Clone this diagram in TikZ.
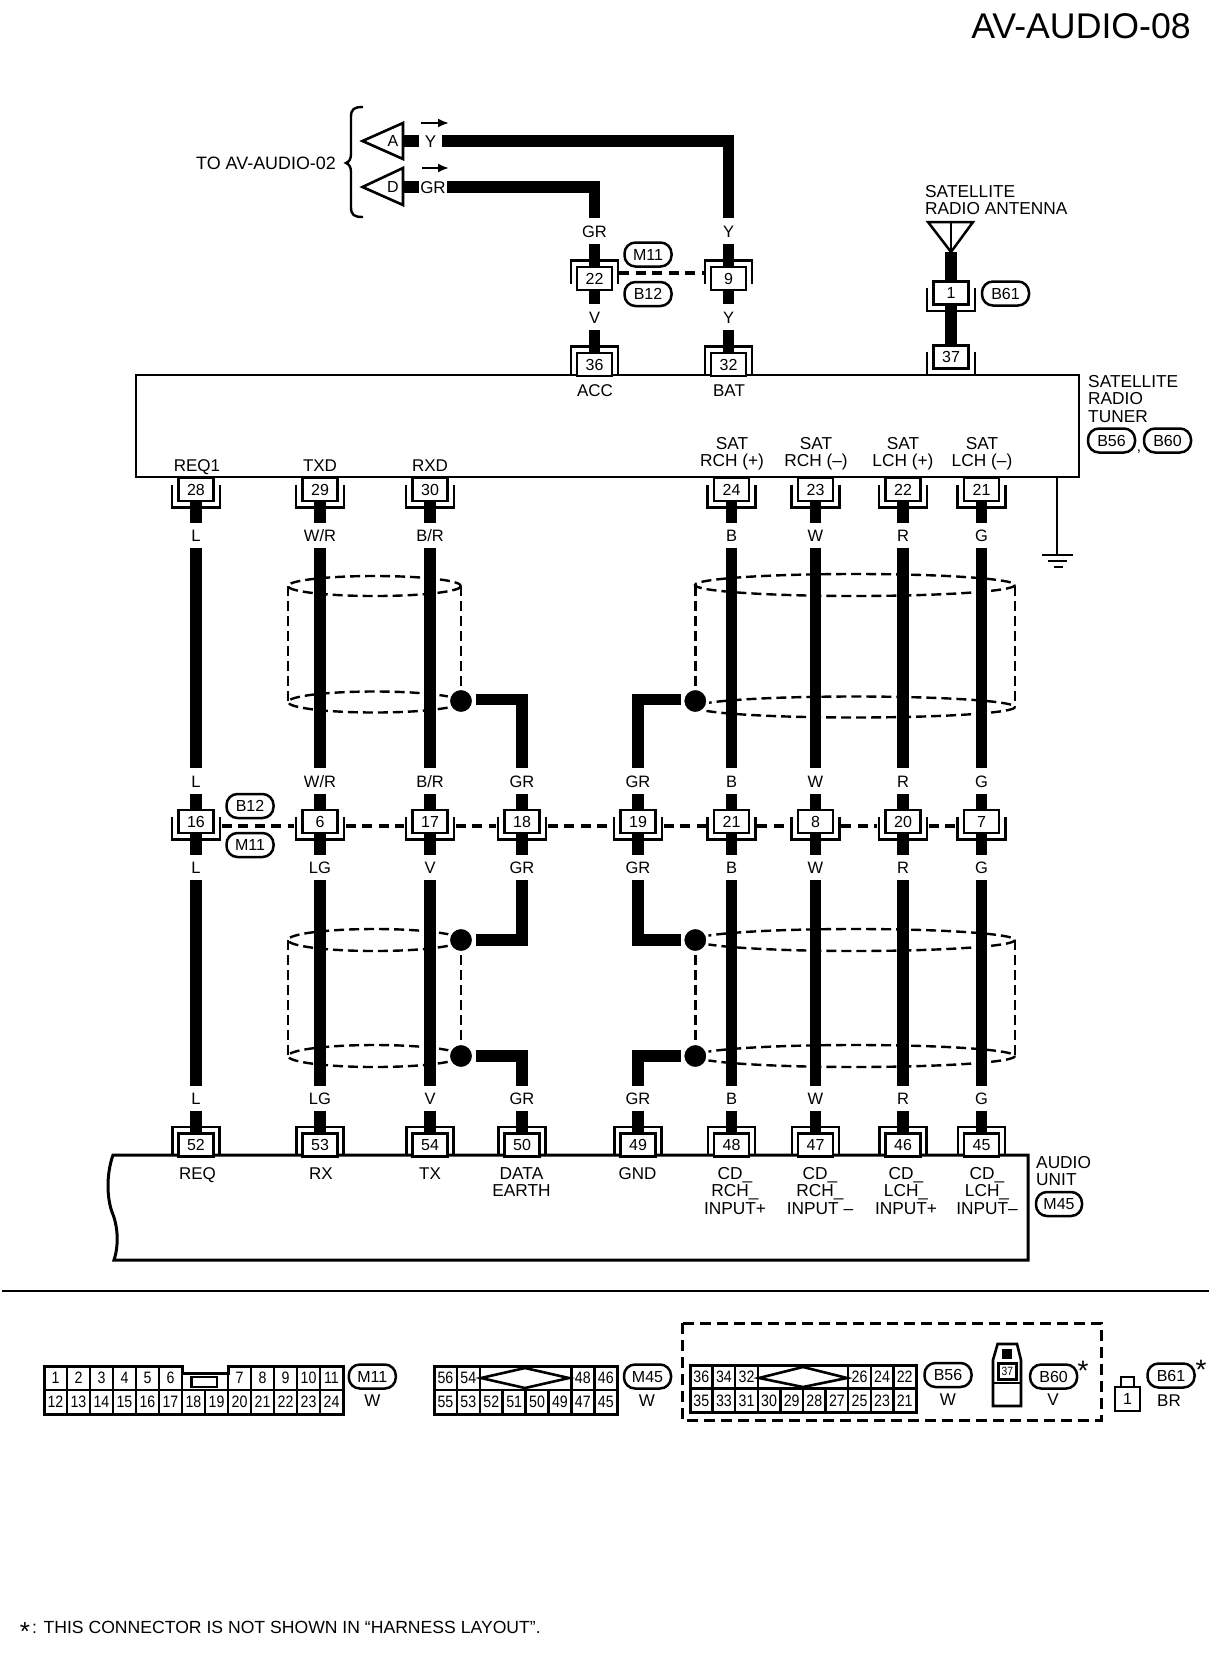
\documentclass[tikz,border=0pt]{standalone}
\usepackage{fontspec}
\setmainfont{Liberation Sans}
\newfontfamily\narrowf[FakeStretch=0.86]{Liberation Sans}
\usetikzlibrary{arrows.meta}
\tikzset{
  wire/.style={line width=11.5pt,line cap=butt,line join=miter},
  brk/.style={line width=2.2pt,line join=miter},
  pinbox/.style={draw,fill=white,line width=2.7pt,minimum width=35pt,minimum height=23pt,inner sep=0pt,
    font=\fontsize{16}{16}\selectfont,text height=11.5pt,text depth=0pt},
  wlabel/.style={inner sep=0pt,font=\fontsize{16.5}{17}\selectfont,text height=12pt,text depth=0pt},
  txt/.style={inner sep=0pt,font=\fontsize{17}{17.5}\selectfont,text height=12.2pt,text depth=0pt},
  multi/.style={inner sep=0pt,font=\fontsize{17.3}{17.5}\selectfont},
  tagoval/.style={draw,line width=2.5pt,rounded corners=11pt,minimum width=47pt,minimum height=24pt,inner sep=0pt,
    font=\fontsize{16}{16}\selectfont,text height=11.5pt,text depth=0pt},
  dashw/.style={line width=4pt,dash pattern=on 10pt off 6.5pt},
  shieldline/.style={line width=2.4pt,dash pattern=on 10pt off 5pt},
  dot/.style={circle,fill=black,draw=white,line width=3pt,minimum size=25pt,inner sep=0pt,outer sep=2pt},
  thickbody/.style={line width=3pt,line join=miter},
  cellbox/.style={draw,line width=2.5pt,inner sep=0pt,font=\narrowf\fontsize{16.5}{16.5}\selectfont,text height=11.8pt,text depth=0pt},
}
\newcommand{\connD}[4]{% bracket below: name,x,y,text
  \draw[brk] (#2-24,#3-5) -- (#2-24,#3+18) -- (#2+24,#3+18) -- (#2+24,#3-5);
  \node[pinbox] (#1) at (#2,#3) {#4};}
\newcommand{\connT}[5]{% bracket above: name,x,y,text,leg length
  \draw[brk] (#2-23.5,#3+#5) -- (#2-23.5,#3-18) -- (#2+23.5,#3-18) -- (#2+23.5,#3+#5);
  \node[pinbox] (#1) at (#2,#3) {#4};}
\begin{document}
\begin{tikzpicture}[x=1pt,y=-1pt]
\useasboundingbox (0,0) rectangle (1216,1660);

% title
\node[inner sep=0pt,anchor=east,font=\fontsize{35.7}{36}\selectfont,text height=25.5pt,text depth=0pt] (title) at (1191,26) {AV-AUDIO-08};

% devices
\node[draw,line width=2.8pt,minimum width=943pt,minimum height=102pt,inner sep=0pt] (tuner) at (607.5,426) {};
\draw[thickbody] (113,1155) .. controls (106,1175) and (107,1198) .. (112,1212) .. controls (118,1226) and (119,1245) .. (114,1260) -- (1028,1260) -- (1028,1155) -- cycle;

% tuner / unit captions
\node[multi,anchor=north west,align=left] (tunercap) at (1088,375) {SATELLITE\\RADIO\\TUNER};
\node[tagoval] (tB56) at (1111.5,440.5) {B56};
\node[tagoval] (tB60) at (1167.5,440.5) {B60};
\node[multi,font=\fontsize{15}{15}\selectfont] (comma) at (1139,452) {,};
\node[multi,anchor=north west,align=left] (unitcap) at (1036,1156) {AUDIO\\UNIT};
\node[tagoval,minimum width=46pt] (tM45a) at (1059,1204) {M45};
\node[multi,anchor=north west,align=left] (antcap) at (925,185) {SATELLITE\\RADIO ANTENNA};

% pin names of the tuner
\node[txt] (nACC) at (595,390) {ACC};
\node[txt] (nBAT) at (729,390) {BAT};
\node[txt] (nREQ1) at (197,465) {REQ1};
\node[txt] (nTXD) at (320,465) {TXD};
\node[txt] (nRXD) at (430,465) {RXD};
\node[multi,anchor=north,align=center] (nS1) at (732,437) {SAT\\RCH (+)};
\node[multi,anchor=north,align=center] (nS2) at (816,437) {SAT\\RCH (--)};
\node[multi,anchor=north,align=center] (nS3) at (903,437) {SAT\\LCH (+)};
\node[multi,anchor=north,align=center] (nS4) at (982,437) {SAT\\LCH (--)};

% pin names of the audio unit
\node[txt] (nREQ) at (197.5,1173) {REQ};
\node[txt] (nRX) at (321,1173) {RX};
\node[txt] (nTX) at (430,1173) {TX};
\node[multi,anchor=north,align=center] (nDE) at (521.5,1167) {DATA\\EARTH};
\node[txt] (nGND) at (637.5,1173) {GND};
\node[multi,anchor=north,align=center] (nC1) at (735,1167) {CD\_\\RCH\_\\INPUT+};
\node[multi,anchor=north,align=center] (nC2) at (820,1167) {CD\_\\RCH\_\\INPUT --};
\node[multi,anchor=north,align=center] (nC3) at (906,1167) {CD\_\\LCH\_\\INPUT+};
\node[multi,anchor=north,align=center] (nC4) at (987,1167) {CD\_\\LCH\_\\INPUT--};

% shields, behind the wires
\coordinate (dc1) at (461,701);
\coordinate (dc2) at (695.3,701);
\coordinate (dc3) at (461,940);
\coordinate (dc4) at (695.3,940);
\coordinate (dc5) at (461,1056);
\coordinate (dc6) at (695.3,1056);
\coordinate (cylAa) at (288,586);
\coordinate (cylAb) at (288,702);
\coordinate (cylAc) at (461,586);
\coordinate (cylBa) at (695.3,586);
\coordinate (cylBb) at (1015,586);
\coordinate (cylBc) at (1015,707);
\coordinate (cylCa) at (288,940);
\coordinate (cylCb) at (288,1056);
\coordinate (cylDa) at (1015,940);
\coordinate (cylDb) at (1015,1056);
\draw[shieldline] (374.5,586) ellipse (86.5 and 10);
\draw[shieldline] (374.5,702) ellipse (86.5 and 10.5);
\draw[shieldline] (855,585) ellipse (160 and 11);
\draw[shieldline] (855,707) ellipse (160 and 10.5);
\draw[shieldline] (374.5,940) ellipse (86.5 and 11);
\draw[shieldline] (374.5,1056) ellipse (86.5 and 11);
\draw[shieldline] (855,940) ellipse (160 and 11);
\draw[shieldline] (855,1056) ellipse (160 and 11);
\draw[shieldline] (cylAa) -- (cylAb);
\draw[shieldline] (cylAc) -- (dc1);
\draw[shieldline] (cylBa) -- (dc2);
\draw[shieldline] (cylBb) -- (cylBc);
\draw[shieldline] (cylCa) -- (cylCb);
\draw[shieldline] (cylDa) -- (cylDb);
\draw[shieldline] (dc3) -- (dc5);
\draw[shieldline] (dc4) -- (dc6);

% the seven through columns
\foreach \n/\x/\pa/\la/\lb/\pmid/\lc/\ld/\pb in {
  L/196/28/L/L/16/L/L/52,
  WR/320/29/{W/R}/{W/R}/6/LG/LG/53,
  BR/430/30/{B/R}/{B/R}/17/V/V/54,
  B/731.5/24/B/B/21/B/B/48,
  W/815.5/23/W/W/8/W/W/47,
  R/903/22/R/R/20/R/R/46,
  G/981.5/21/G/G/7/G/G/45}{
  \connD{t\n}{\x}{489.5}{\pa}
  \connD{m\n}{\x}{821.5}{\pmid}
  \connT{b\n}{\x}{1145}{\pb}{10}
  \node[wlabel,minimum height=25pt] (a\n) at (\x,535.5) {\la};
  \node[wlabel,minimum height=26pt] (e\n) at (\x,781) {\lb};
  \node[wlabel,minimum height=25pt] (c\n) at (\x,867.5) {\lc};
  \node[wlabel,minimum height=25pt] (d\n) at (\x,1098.5) {\ld};
  \draw[wire] (t\n.south) -- (a\n.north);
  \draw[wire] (a\n.south) -- (e\n.north);
  \draw[wire] (e\n.south) -- (m\n.north);
  \draw[wire] (m\n.south) -- (c\n.north);
  \draw[wire] (c\n.south) -- (d\n.north);
  \draw[wire] (d\n.south) -- (b\n.north);
}

% the two drain columns
\foreach \n/\x/\pmid/\pb in {S/522/18/50,H/638/19/49}{
  \connD{m\n}{\x}{821.5}{\pmid}
  \connT{b\n}{\x}{1145}{\pb}{10}
  \node[wlabel,minimum height=26pt] (e\n) at (\x,781) {GR};
  \node[wlabel,minimum height=25pt] (c\n) at (\x,867.5) {GR};
  \node[wlabel,minimum height=25pt] (d\n) at (\x,1098.5) {GR};
  \draw[wire] (e\n.south) -- (m\n.north);
  \draw[wire] (m\n.south) -- (c\n.north);
  \draw[wire] (d\n.south) -- (b\n.north);
}
\foreach \i in {1,...,6}{\node[dot] (d\i) at (dc\i) {};}
\draw[wire] ([yshift=1.5pt]d1.east) -- ([yshift=1.5pt]d1.east -| eS.north) -- (eS.north);
\draw[wire] ([yshift=1.5pt]d2.west) -- ([yshift=1.5pt]d2.west -| eH.north) -- (eH.north);
\draw[wire] (cS.south) -- (cS.south |- d3.east) -- (d3.east);
\draw[wire] (cH.south) -- (cH.south |- d4.west) -- (d4.west);
\draw[wire] (d5.east) -- (d5.east -| dS.north) -- (dS.north);
\draw[wire] (d6.west) -- (d6.west -| dH.north) -- (dH.north);

% inter-connector dashed link and tags
\foreach \p/\q in {mL/mWR,mWR/mBR,mBR/mS,mS/mH,mH/mB,mB/mW,mW/mR,mR/mG}{
  \draw[dashw] ([xshift=7pt,yshift=-4pt]\p.east) -- ([xshift=-7pt,yshift=-4pt]\q.west);
}
\node[tagoval] (tB12b) at (250,806) {B12};
\node[tagoval] (tM11b) at (250,845) {M11};

% upper harness
\node[inner sep=0pt,font=\fontsize{16}{16}\selectfont,minimum width=18pt,text height=11.5pt,text depth=0pt] (triA) at (393,141) {A};
\node[inner sep=0pt,font=\fontsize{16}{16}\selectfont,minimum width=18pt,text height=11.5pt,text depth=0pt] (triD) at (393,187) {D};
\draw[line width=2.6pt,line join=miter] (362.5,141) -- (403,123) -- (403,159) -- cycle;
\draw[line width=2.6pt,line join=miter] (362.5,187) -- (403,168) -- (403,205) -- cycle;
\node[txt,minimum width=23pt] (wY) at (430.5,141) {Y};
\node[txt,minimum width=27pt] (wGR) at (433,187) {GR};
\draw[wire] (triA.east) -- (wY.west);
\draw[wire] (triD.east) -- (wGR.west);
\node[wlabel,minimum height=26pt] (uGR) at (594.5,231) {GR};
\node[wlabel,minimum height=26pt] (uY) at (728.5,231) {Y};
\draw[wire] (wY.east) -- (wY.east -| uY.north) -- (uY.north);
\draw[wire] (wGR.east) -- (wGR.east -| uGR.north) -- (uGR.north);
\coordinate (arA1) at (421,123);
\coordinate (arA2) at (449,123);
\coordinate (arD1) at (422,168);
\coordinate (arD2) at (449,168);
\draw[line width=2pt,-{Latex[length=11pt,width=9pt]}] (arA1) -- (arA2);
\draw[line width=2pt,-{Latex[length=11pt,width=9pt]}] (arD1) -- (arD2);
\draw[line width=2.4pt] (363,107) .. controls (354,107) and (351,109) .. (351,117) -- (351,154) .. controls (351,159) and (349,162) .. (346,163) .. controls (349,164) and (351,167) .. (351,172) -- (351,207) .. controls (351,215) and (354,217) .. (363,217);
\node[txt,anchor=east,font=\fontsize{17.9}{18}\selectfont] (toav) at (336,163) {TO AV-AUDIO-02};

\connT{p22}{594.5}{278.5}{22}{5}
\connT{p9}{728.5}{278.5}{9}{5}
\connT{p36}{594.5}{364.5}{36}{10.5}
\connT{p32}{728.5}{364.5}{32}{10.5}
\node[wlabel,minimum height=26pt] (vV) at (594.5,317) {V};
\node[wlabel,minimum height=26pt] (vY) at (728.5,317) {Y};
\draw[wire] (uGR.south) -- (p22.north);
\draw[wire] (uY.south) -- (p9.north);
\draw[wire] (p22.south) -- (vV.north);
\draw[wire] (p9.south) -- (vY.north);
\draw[wire] (vV.south) -- (p36.north);
\draw[wire] (vY.south) -- (p32.north);
\draw[dashw] ([xshift=6pt,yshift=5.5pt]p22.east) -- ([xshift=-6pt,yshift=5.5pt]p9.west);
\node[tagoval] (tM11a) at (648,254.5) {M11};
\node[tagoval] (tB12a) at (648,294) {B12};

% antenna
\connD{p1}{951}{293}{1}
\connD{p37}{951}{357}{37}
\node[tagoval] (tB61a) at (1005.5,293.5) {B61};
\coordinate (antApex) at (951,252);
\coordinate (antL) at (928,222);
\coordinate (antM) at (951,222);
\coordinate (antR) at (973,222);
\draw[line width=2.5pt,line join=miter] (antL) -- (antR) -- (antApex) -- cycle;
\draw[line width=2.5pt] (antM) -- (antApex);
\draw[wire] (antApex) -- (p1.north);
\draw[wire] (p1.south) -- (p37.north);

% ground
\coordinate (gnd) at (1057,555);
\draw[line width=2.4pt] (tuner.south -| gnd) -- (gnd);
\draw[line width=2.4pt] (1042,555) -- (1073,555);
\draw[line width=2.4pt] (1048,561) -- (1067,561);
\draw[line width=2.4pt] (1054,567) -- (1063,567);

% separator
\coordinate (sepL) at (2,1291);
\coordinate (sepR) at (1209,1291);
\draw[line width=1.6pt] (sepL) -- (sepR);

% connector M11
\foreach \t/\i in {1/0,2/1,3/2,4/3,5/4,6/5,7/8,8/9,9/10,10/11,11/12}{
  \node[cellbox,minimum width=23pt,minimum height=24pt] (fa\t) at ({55.5+23*\i},1378) {\t};}
\foreach \t [count=\i from 0] in {12,13,14,15,16,17,18,19,20,21,22,23,24}{
  \node[cellbox,minimum width=23pt,minimum height=24pt] (fb\t) at ({55.5+23*\i},1402) {\t};}
\draw[thickbody] (44,1366) -- (182,1366) -- (182,1373) -- (228,1373) -- (228,1366) -- (343,1366) -- (343,1414) -- (44,1414) -- cycle;
\draw[line width=2.4pt] (182,1390) -- (228,1390);
\draw[line width=2.8pt] (191.5,1377) rectangle (217,1387);
\node[tagoval] (tM11c) at (372.3,1376.5) {M11};
\node[txt] (cM11) at (372.5,1400) {W};

% connector M45
\foreach \t/\i in {56/0,54/1,48/6,46/7}{
  \node[cellbox,minimum width=22.9pt,minimum height=24pt] (ga\t) at ({445.45+22.9*\i},1378) {\t};}
\foreach \t [count=\i from 0] in {55,53,52,51,50,49,47,45}{
  \node[cellbox,minimum width=22.9pt,minimum height=24pt] (gb\t) at ({445.45+22.9*\i},1402) {\t};}
\draw[thickbody] (434,1366) rectangle (617,1414);
\draw[line width=2.4pt] (479.8,1390) -- (571.4,1390);
\draw[line width=2.6pt,line join=miter] (481,1378) -- (525,1368) -- (569,1378) -- (525,1388) -- cycle;
\node[tagoval] (tM45c) at (647.5,1376.5) {M45};
\node[txt] (cM45) at (647,1400) {W};

% dashed tuner group
\draw[line width=3pt,dash pattern=on 11pt off 6pt] (682,1323) rectangle (1101,1420);

% connector B56
\foreach \t/\i in {36/0,34/1,32/2,26/7,24/8,22/9}{
  \node[cellbox,minimum width=22.6pt,minimum height=23.5pt] (ha\t) at ({701.3+22.6*\i},1376.7) {\t};}
\foreach \t [count=\i from 0] in {35,33,31,30,29,28,27,25,23,21}{
  \node[cellbox,minimum width=22.6pt,minimum height=23.5pt] (hb\t) at ({701.3+22.6*\i},1400.2) {\t};}
\draw[thickbody] (690,1365) rectangle (916,1412);
\draw[line width=2.4pt] (757.8,1388.5) -- (848.2,1388.5);
\draw[line width=2.6pt,line join=miter] (759,1378) -- (803,1367) -- (847,1378) -- (803,1387) -- cycle;
\node[tagoval] (tB56c) at (948,1375) {B56};
\node[txt] (cB56) at (948,1399) {W};

% connector B60
\draw[line width=2.6pt,line join=miter] (997.6,1344) -- (1017,1344) -- (1021,1360) -- (1021,1406) -- (993,1406) -- (993,1360) -- cycle;
\draw[line width=2.6pt] (993,1383) -- (1021,1383);
\fill (1002,1349) rectangle (1012,1359);
\node[draw,line width=3pt,fill=white,minimum width=18pt,minimum height=16pt,inner sep=0pt,font=\narrowf\fontsize{12}{12}\selectfont,text height=8.6pt,text depth=0pt] (p37c) at (1007.3,1371) {37};
\node[tagoval] (tB60c) at (1053.6,1376.5) {B60};
\node[txt] (cB60) at (1053,1399) {V};
\node[inner sep=0pt,anchor=base,font=\fontsize{28}{28}\selectfont] (starB60) at (1083,1380) {*};

% connector B61
\node[draw,line width=2.5pt,minimum width=25pt,minimum height=24pt,inner sep=0pt,font=\fontsize{16}{16}\selectfont,text height=11.5pt,text depth=0pt] (p1c) at (1127.5,1399) {1};
\draw[line width=2.5pt] (1121,1387) -- (1121,1377) -- (1134,1377) -- (1134,1387);
\node[tagoval] (tB61c) at (1171,1375.5) {B61};
\node[txt] (cB61) at (1169,1400) {BR};
\node[inner sep=0pt,anchor=base,font=\fontsize{28}{28}\selectfont] (starB61) at (1201,1379) {*};

% footnote
\node[inner sep=0pt,anchor=base,font=\fontsize{26}{26}\selectfont] (starF) at (25,1640) {*};
\node[txt,anchor=west,font=\fontsize{17.6}{18}\selectfont] (foot) at (32,1627) {: THIS CONNECTOR IS NOT SHOWN IN “HARNESS LAYOUT”.};
\end{tikzpicture}
\end{document}
